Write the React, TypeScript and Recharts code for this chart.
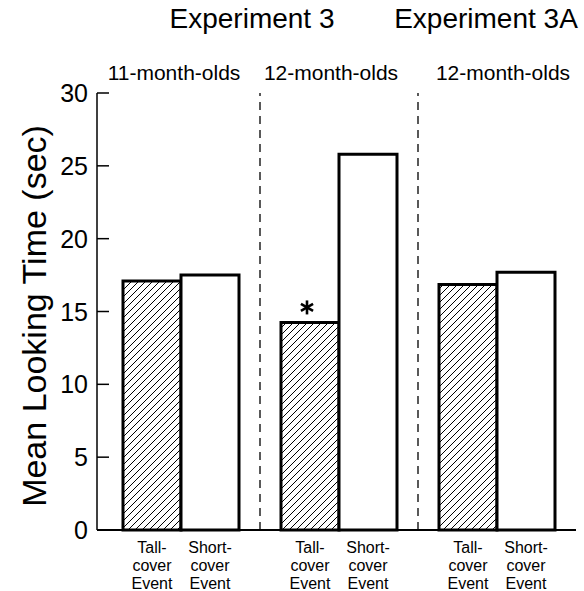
import { BarChart, Bar, XAxis, YAxis, ReferenceLine, LabelList, Customized } from 'recharts';

// Looking times per group (sec)
const groupIds = ['exp3-11mo', 'exp3-12mo', 'exp3a-12mo'];
const groups = ['11-month-olds', '12-month-olds', '12-month-olds'];
const tallCover = [17.1, 14.25, 16.85];
const shortCover = [17.5, 25.8, 17.7];
const significance = ['', '*', ''];
const experiments = ['Experiment 3', 'Experiment 3A'];
const yTicks = [0, 5, 10, 15, 20, 25, 30];
const tallLabel = ['Tall-', 'cover', 'Event'];
const shortLabel = ['Short-', 'cover', 'Event'];
const dividers = ['exp3-12mo', 'exp3a-12mo'];

const FONT = '"Liberation Sans", Arial, Helvetica, sans-serif';

const data = groupIds.map((id, i) => ({
    id,
    group: groups[i],
    tall: tallCover[i],
    short: shortCover[i],
    sig: significance[i],
}));

const YTick = ({ x, y, payload }: any) => (
    <g>
        <line x1={x + 9} x2={x + 21} y1={y} y2={y} stroke="#000" strokeWidth={1.5} />
        <text x={x} y={y} dy="0.36em" textAnchor="end" fontSize={25} fontFamily={FONT} fill="#000">
            {payload.value}
        </text>
    </g>
);

// three-line caption under each bar
const barCaption = (lines: string[]) => (props: any) => {
    const { x, y, width, height } = props;
    const cx = Number(x) + Number(width) / 2;
    const base = Number(y) + Number(height);
    return (
        <text textAnchor="middle" fontSize={16} fontFamily={FONT} fill="#000">
            {lines.map((l, i) => (
                <tspan key={i} x={cx} y={base + 23 + i * 18}>{l}</tspan>
            ))}
        </text>
    );
};

const Asterisk = (props: any) => {
    const { x, y, width, value } = props;
    if (value !== '*') return null;
    const cx = Number(x) + Number(width) / 2 - 3;
    const cy = Number(y) - 15;
    const r = 7;
    return (
        <g stroke="#000" strokeWidth={2.6}>
            {[90, 30, 150].map((a) => {
                const dx = r * Math.cos((a * Math.PI) / 180);
                const dy = r * Math.sin((a * Math.PI) / 180);
                return <line key={a} x1={cx - dx} y1={cy - dy} x2={cx + dx} y2={cy + dy} />;
            })}
        </g>
    );
};

const Annotations = () => (
    <g fontFamily={FONT} fill="#000">
        <text x={252} y={28} textAnchor="middle" fontSize={28}>{experiments[0]}</text>
        <text x={486} y={28} textAnchor="middle" fontSize={28}>{experiments[1]}</text>
        <text x={174} y={80} textAnchor="middle" fontSize={21}>{groups[0]}</text>
        <text x={331} y={80} textAnchor="middle" fontSize={21}>{groups[1]}</text>
        <text x={503} y={80} textAnchor="middle" fontSize={21}>{groups[2]}</text>
        <text
            x={46}
            y={316}
            textAnchor="middle"
            fontSize={34}
            transform="rotate(-90 46 316)"
        >
            Mean Looking Time (sec)
        </text>
    </g>
);

export default function App() {
    return (
        <div style={{ width: 584, height: 591, background: '#fff' }}>
            <style>{'body{margin:0;background:#fff}'}</style>
            <BarChart
                width={584}
                height={591}
                data={data}
                margin={{ top: 93, right: 8, bottom: 0, left: 0 }}
                barGap={0}
                barSize={58}
            >
                <defs>
                    <pattern id="hatch" patternUnits="userSpaceOnUse" width="7" height="7">
                        <rect width="7" height="7" fill="#fff" />
                        <path d="M-1,1 l2,-2 M0,7 l7,-7 M6,8 l2,-2" stroke="#000" strokeWidth={1} />
                    </pattern>
                </defs>
                <XAxis
                    dataKey="id"
                    height={61}
                    padding={{ left: 5, right: 0 }}
                    tick={false}
                    tickLine={false}
                    axisLine={{ stroke: '#000', strokeWidth: 2 }}
                />
                <YAxis
                    width={97}
                    domain={[0, 30]}
                    ticks={yTicks}
                    interval={0}
                    tickSize={0}
                    tickMargin={9}
                    tick={<YTick />}
                    axisLine={{ stroke: '#000', strokeWidth: 1.5 }}
                />
                {dividers.map((d) => (
                    <ReferenceLine
                        key={d}
                        x={d}
                        position="start"
                        stroke="#000"
                        strokeWidth={1.3}
                        strokeDasharray="8 6"
                    />
                ))}
                <Bar dataKey="tall" fill="url(#hatch)" stroke="#000" strokeWidth={3} isAnimationActive={false}>
                    <LabelList dataKey="tall" content={barCaption(tallLabel)} />
                    <LabelList dataKey="sig" content={<Asterisk />} />
                </Bar>
                <Bar dataKey="short" fill="#fff" stroke="#000" strokeWidth={3} isAnimationActive={false}>
                    <LabelList dataKey="short" content={barCaption(shortLabel)} />
                </Bar>
                <Customized component={Annotations} />
            </BarChart>
        </div>
    );
}
